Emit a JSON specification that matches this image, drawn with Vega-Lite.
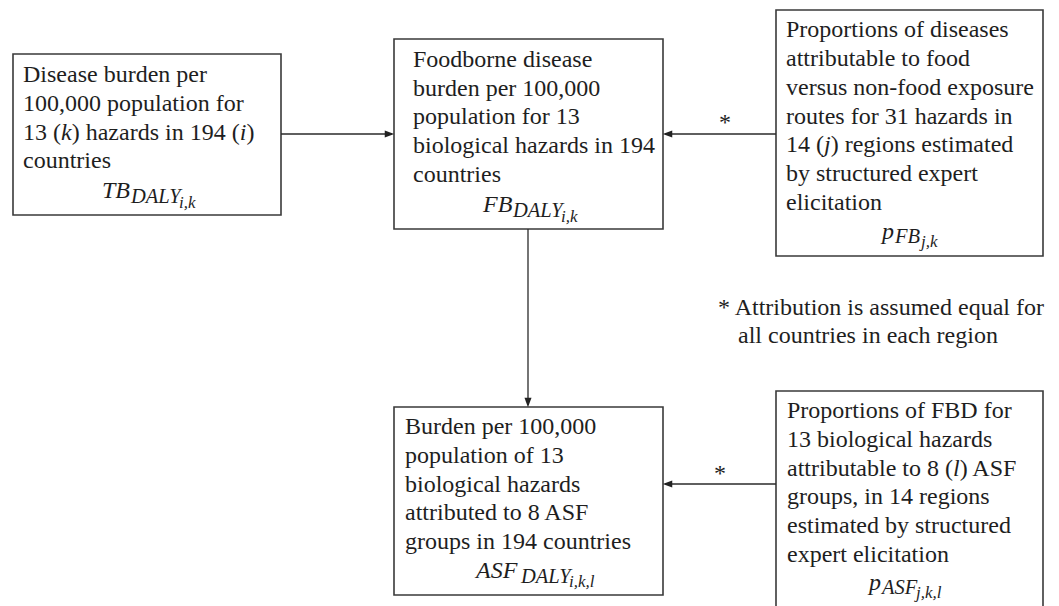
{
  "$schema": "https://vega.github.io/schema/vega-lite/v6.json",
  "width": 1059,
  "height": 606,
  "autosize": {"type": "none"},
  "padding": 0,
  "background": "white",
  "config": {"view": {"stroke": null}},
  "datasets": {
    "boxes": [
      {"id": "TB", "x1": 13, "x2": 281, "y1": 54, "y2": 215},
      {"id": "FB", "x1": 394, "x2": 663, "y1": 39, "y2": 229},
      {"id": "pFB", "x1": 776, "x2": 1043, "y1": 10, "y2": 256},
      {"id": "ASF", "x1": 394, "x2": 663, "y1": 407, "y2": 595},
      {"id": "pASF", "x1": 776, "x2": 1043, "y1": 391, "y2": 640}
    ],
    "arrows": [
      {"x1": 281, "y1": 134, "x2": 392, "y2": 134},
      {"x1": 776, "y1": 134, "x2": 665, "y2": 134},
      {"x1": 528, "y1": 229, "x2": 528, "y2": 405},
      {"x1": 776, "y1": 484, "x2": 665, "y2": 484}
    ],
    "heads": [
      {"x": 389.5, "y": 134, "dir": "right"},
      {"x": 667.5, "y": 134, "dir": "left"},
      {"x": 528, "y": 402.5, "dir": "down"},
      {"x": 667.5, "y": 484, "dir": "left"}
    ],
    "body": [
      {"t": "Disease burden per", "x": 23, "y": 82},
      {"t": "100,000 population for", "x": 23, "y": 111},
      {"t": "13 (", "x": 23, "y": 140},
      {"t": ") hazards in 194 (", "x": 71.7, "y": 140},
      {"t": ")", "x": 246.4, "y": 140},
      {"t": "countries", "x": 23, "y": 168},
      {"t": "Foodborne disease", "x": 413, "y": 67},
      {"t": "burden per 100,000", "x": 413, "y": 96},
      {"t": "population for 13", "x": 413, "y": 124},
      {"t": "biological hazards in 194", "x": 413, "y": 153},
      {"t": "countries", "x": 413, "y": 182},
      {"t": "Proportions of diseases", "x": 786, "y": 37},
      {"t": "attributable to food", "x": 786, "y": 66},
      {"t": "versus non-food exposure", "x": 786, "y": 95},
      {"t": "routes for 31 hazards in", "x": 786, "y": 124},
      {"t": "14 (", "x": 786, "y": 152},
      {"t": ") regions estimated", "x": 830.7, "y": 152},
      {"t": "by structured expert", "x": 786, "y": 181},
      {"t": "elicitation", "x": 786, "y": 210},
      {"t": "Burden per 100,000", "x": 405, "y": 434},
      {"t": "population of 13", "x": 405, "y": 463},
      {"t": "biological hazards", "x": 405, "y": 492},
      {"t": "attributed to 8 ASF", "x": 405, "y": 520},
      {"t": "groups in 194 countries", "x": 405, "y": 549},
      {"t": "Proportions of FBD for", "x": 787, "y": 418},
      {"t": "13 biological hazards", "x": 787, "y": 447},
      {"t": "attributable to 8 (", "x": 787, "y": 476},
      {"t": ") ASF", "x": 959.7, "y": 476},
      {"t": "groups, in 14 regions", "x": 787, "y": 504},
      {"t": "estimated by structured", "x": 787, "y": 533},
      {"t": "expert elicitation", "x": 787, "y": 562},
      {"t": "* Attribution is assumed equal for", "x": 718, "y": 315},
      {"t": "all countries in each region", "x": 738, "y": 343}
    ],
    "ital": [
      {"t": "k", "x": 61, "y": 140},
      {"t": "i", "x": 239.7, "y": 140},
      {"t": "j", "x": 824, "y": 152},
      {"t": "l", "x": 953, "y": 476}
    ],
    "stars": [
      {"t": "*", "x": 725, "y": 130},
      {"t": "*", "x": 720, "y": 481}
    ],
    "math": [
      {"t": "TB", "x": 102, "y": 198, "level": 0},
      {"t": "DALY", "x": 131, "y": 203, "level": 1},
      {"t": "i,k", "x": 179, "y": 208, "level": 2},
      {"t": "FB", "x": 483, "y": 212, "level": 0},
      {"t": "DALY", "x": 513, "y": 217, "level": 1},
      {"t": "i,k", "x": 561, "y": 222, "level": 2},
      {"t": "p", "x": 882, "y": 239, "level": 0},
      {"t": "FB", "x": 895, "y": 243, "level": 1},
      {"t": "j,k", "x": 921, "y": 247, "level": 2},
      {"t": "ASF", "x": 476, "y": 578, "level": 0},
      {"t": "DALY", "x": 521, "y": 583, "level": 1},
      {"t": "i,k,l", "x": 569, "y": 587, "level": 2},
      {"t": "p", "x": 869, "y": 590, "level": 0},
      {"t": "ASF", "x": 882, "y": 594, "level": 1},
      {"t": "j,k,l", "x": 916, "y": 598, "level": 2}
    ]
  },
  "layer": [
    {
      "data": {"name": "boxes"},
      "mark": {"type": "rect", "fill": "white", "stroke": "#3a3a3a", "strokeWidth": 1.6, "clip": true},
      "encoding": {
        "x": {"field": "x1", "type": "quantitative", "scale": {"domain": [0, 1059], "nice": false, "zero": false}, "axis": null},
        "x2": {"field": "x2"},
        "y": {"field": "y1", "type": "quantitative", "scale": {"domain": [0, 606], "reverse": true, "nice": false, "zero": false}, "axis": null},
        "y2": {"field": "y2"}
      }
    },
    {
      "data": {"name": "arrows"},
      "mark": {"type": "rule", "stroke": "#2a2a2a", "strokeWidth": 1.3},
      "encoding": {
        "x": {"field": "x1", "type": "quantitative", "axis": null},
        "x2": {"field": "x2"},
        "y": {"field": "y1", "type": "quantitative", "axis": null},
        "y2": {"field": "y2"}
      }
    },
    {
      "data": {"name": "heads"},
      "mark": {"type": "point", "filled": true, "fill": "#222222", "opacity": 1, "strokeWidth": 0},
      "encoding": {
        "x": {"field": "x", "type": "quantitative", "axis": null},
        "y": {"field": "y", "type": "quantitative", "axis": null},
        "shape": {"field": "dir", "type": "nominal", "legend": null,
          "scale": {"domain": ["right", "left", "down"], "range": ["M1,0L-1,-0.75L-1,0.75Z", "M-1,0L1,-0.75L1,0.75Z", "M0,1L-0.75,-1L0.75,-1Z"]}},
        "size": {"value": 90}
      }
    },
    {
      "data": {"name": "body"},
      "mark": {"type": "text", "font": "Liberation Serif", "fontSize": 24, "align": "left", "baseline": "alphabetic", "fill": "#1e1e1e"},
      "encoding": {
        "x": {"field": "x", "type": "quantitative", "axis": null},
        "y": {"field": "y", "type": "quantitative", "axis": null},
        "text": {"field": "t"}
      }
    },
    {
      "data": {"name": "ital"},
      "mark": {"type": "text", "font": "Liberation Serif", "fontSize": 24, "fontStyle": "italic", "align": "left", "baseline": "alphabetic", "fill": "#1e1e1e"},
      "encoding": {
        "x": {"field": "x", "type": "quantitative", "axis": null},
        "y": {"field": "y", "type": "quantitative", "axis": null},
        "text": {"field": "t"}
      }
    },
    {
      "data": {"name": "stars"},
      "mark": {"type": "text", "font": "Liberation Serif", "fontSize": 24, "align": "center", "baseline": "alphabetic", "fill": "#1e1e1e"},
      "encoding": {
        "x": {"field": "x", "type": "quantitative", "axis": null},
        "y": {"field": "y", "type": "quantitative", "axis": null},
        "text": {"field": "t"}
      }
    },
    {
      "data": {"name": "math"},
      "mark": {"type": "text", "font": "Liberation Serif", "fontStyle": "italic", "align": "left", "baseline": "alphabetic", "fill": "#1e1e1e"},
      "encoding": {
        "x": {"field": "x", "type": "quantitative", "axis": null},
        "y": {"field": "y", "type": "quantitative", "axis": null},
        "text": {"field": "t"},
        "size": {"field": "level", "type": "ordinal", "legend": null, "scale": {"domain": [0, 1, 2], "range": [24, 17, 13]}}
      }
    }
  ]
}
